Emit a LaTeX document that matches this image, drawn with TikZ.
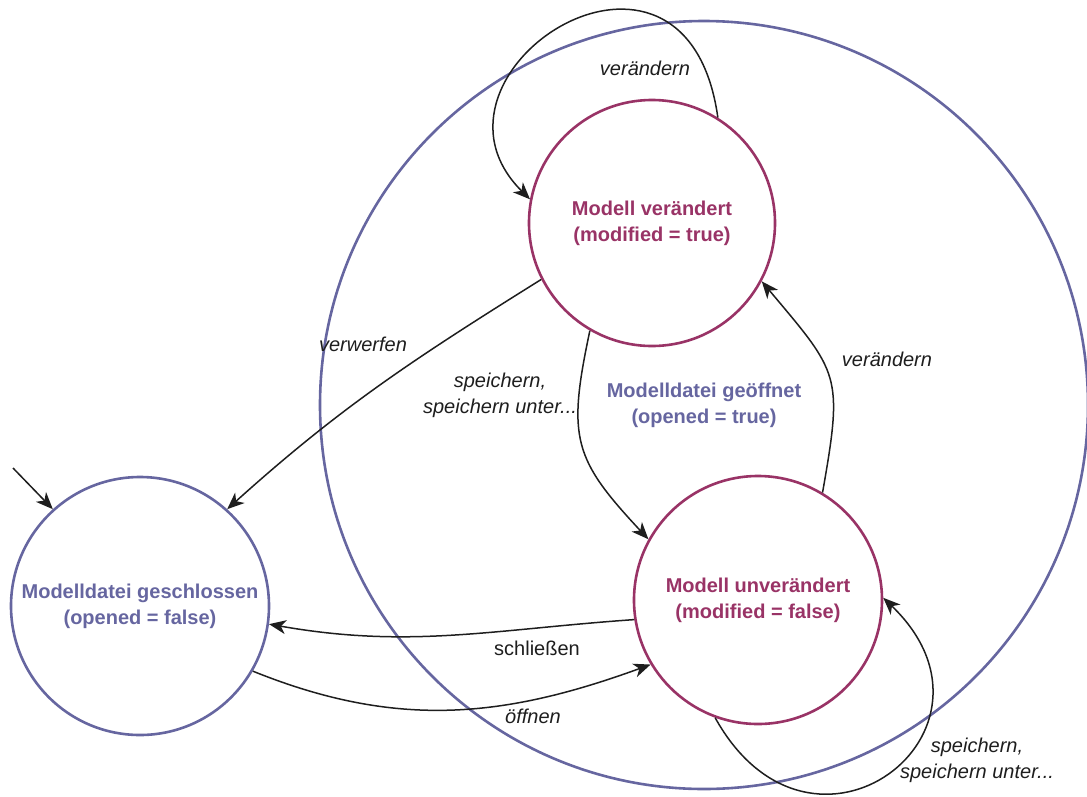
\documentclass[tikz,border=0pt]{standalone}
\usepackage{fontspec}
\setmainfont{Liberation Sans}
\usetikzlibrary{arrows.meta}
\definecolor{slate}{RGB}{102,102,160}
\definecolor{plum}{RGB}{153,51,102}
\definecolor{ink}{RGB}{30,30,30}

\begin{document}
\begin{tikzpicture}[x=1pt,y=1pt,
  state/.style={circle, draw, line width=2.6pt, inner sep=0pt, align=center,
    font=\fontsize{20}{26}\selectfont\bfseries},
  outerstate/.style={state, draw=slate, text=slate},
  innerstate/.style={state, draw=plum, text=plum},
  edge/.style={line width=1.5pt, draw=ink, -{Stealth[length=17pt,width=14pt,inset=5pt]}},
  lbl/.style={font=\fontsize{20}{26}\selectfont\itshape, align=center, text=ink},
]
\useasboundingbox (0,0) rectangle (1087,-796);

% superstate and states
\node[outerstate, minimum size=768pt] (open) at (704,-405) {Modelldatei geöffnet\\(opened = true)};
\node[outerstate, minimum size=258pt] (closed) at (140,-606) {Modelldatei geschlossen\\(opened = false)};
\node[innerstate, minimum size=246pt] (mod) at (652,-223) {Modell verändert\\(modified = true)};
\node[innerstate, minimum size=248pt] (unmod) at (758,-600) {Modell unverändert\\(modified = false)};

% initial transition
\coordinate (init) at (13,-468);
\draw[edge] (init) -- (closed.132);

% transitions
\draw[edge] (mod.58) .. controls (686,110) and (403,-73) .. (mod.169);
\draw[edge] (mod.207) to[out=212,in=42] (closed.48);
\draw[edge] (mod.240) to[out=258,in=133,looseness=1.3] (unmod.151);
\draw[edge] (unmod.59) to[out=80,in=-50,looseness=1.4] (mod.332);
\draw[edge] (unmod.250) .. controls (812,-892) and (1022,-731) .. (unmod.1);
\draw[edge] (unmod.189) to[out=184,in=-10] (closed.-8);
\draw[edge] (closed.-30) to[out=-22,in=200] (unmod.211);

% transition labels
\node[lbl] (lmodself) at (645,-68) {verändern};
\node[lbl] (lmodify) at (887,-359) {verändern};
\node[lbl] (ldiscard) at (363,-344) {verwerfen};
\node[lbl] (lsave) at (500,-395) {speichern,\\speichern unter...};
\node[lbl, font=\fontsize{20}{26}\selectfont] (lclose) at (537,-648) {schließen};
\node[lbl] (lopen) at (533,-716) {öffnen};
\node[lbl] (lsaveself) at (977,-760) {speichern,\\speichern unter...};
\end{tikzpicture}
\end{document}
